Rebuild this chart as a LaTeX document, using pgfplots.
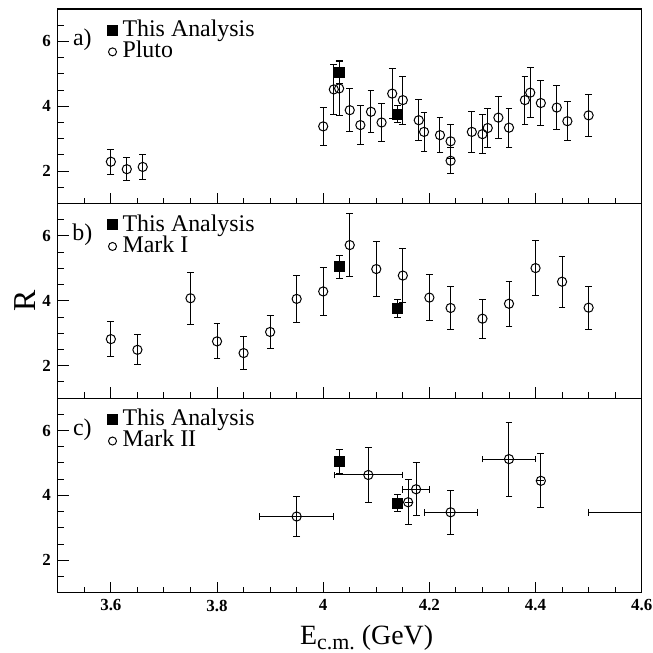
\documentclass[border=0pt]{standalone}
\usepackage{fontspec}
\setmainfont{Liberation Serif}
\usepackage{pgfplots}
\usepackage{pgfplotstable}
\pgfplotsset{compat=1.18}

\pgfplotstableread{
x y ey
4.03 5.05 0.36
4.14 3.76 0.27
}\thisan

\pgfplotstableread{
x y ey
3.60 2.29 0.38
3.63 2.06 0.36
3.66 2.13 0.38
4.00 3.38 0.58
4.02 4.52 0.76
4.03 4.55 0.82
4.05 3.88 0.67
4.07 3.42 0.60
4.09 3.83 0.65
4.11 3.50 0.60
4.13 4.39 0.77
4.15 4.19 0.74
4.18 3.57 0.63
4.19 3.21 0.60
4.22 3.11 0.55
4.24 2.92 0.52
4.24 2.32 0.40
4.28 3.21 0.62
4.30 3.14 0.60
4.31 3.33 0.60
4.33 3.65 0.64
4.35 3.34 0.60
4.38 4.19 0.74
4.39 4.42 0.77
4.41 4.10 0.69
4.44 3.96 0.69
4.46 3.54 0.61
4.50 3.72 0.65
}\pluto

\pgfplotstableread{
x y ey
3.60 2.82 0.55
3.65 2.49 0.46
3.75 4.08 0.80
3.80 2.75 0.54
3.85 2.39 0.51
3.90 3.04 0.52
3.95 4.06 0.72
4.00 4.29 0.74
4.05 5.72 0.98
4.10 4.98 0.85
4.15 4.78 0.82
4.20 4.10 0.71
4.24 3.78 0.66
4.30 3.45 0.60
4.35 3.91 0.69
4.40 5.01 0.85
4.45 4.59 0.78
4.50 3.79 0.66
}\markone

\pgfplotstableread{
x y ex ey
3.95 3.35 0.070 0.63
4.085 4.63 0.064 0.86
4.16 3.79 0.000 0.70
4.175 4.19 0.025 0.81
4.24 3.48 0.050 0.67
4.35 5.12 0.050 1.14
4.41 4.45 0.000 0.83
}\marktwo

\begin{document}
\begin{tikzpicture}
\pgfplotsset{
 panel/.style={
  scale only axis, width=292bp, height=97.3bp,
  xmin=3.5,xmax=4.6,ymin=1,ymax=7,
  xtick={3.6,3.8,4.0,4.2,4.4,4.6},
  minor xtick={3.5,3.55,3.65,3.7,3.75,3.85,3.9,3.95,4.05,4.1,4.15,4.25,4.3,4.35,4.45,4.5,4.55},
  ytick={2,4,6},
  minor ytick={1.5,2.5,3,3.5,4.5,5,5.5,6.5},
  tick pos=left, tick align=inside,
  major tick length=5.5bp, minor tick length=3bp,
  every tick/.style={black, line width=0.5pt},
  axis line style={line width=0.6pt},
  /pgf/number format/assume math mode=true,
  ticklabel style={font=\fontsize{8.5}{8.5}\selectfont\bfseries},
  legend style={draw=none, fill=none, at={(0.0845,0.955)}, anchor=north west,
    font=\fontsize{12}{12}\selectfont, inner sep=0pt, row sep=-1.3bp,
    nodes={inner sep=1pt}},
  legend cell align=left,
 },
 ebar/.style={error bars/.cd, y dir=both, y explicit,
   error bar style={line width=0.5pt, black},
   error mark options={rotate=90, mark size=1.7bp, line width=0.5pt, black}},
 sq/.style={only marks, mark=square*, mark size=2.5bp, black,
   legend image code/.code={\path[draw=none] (0bp,0bp) -- (6.5bp,0bp); \draw[only marks, mark=square*, mark size=2.5bp, black] plot coordinates {(2.5bp,0bp)};}},
 ci/.style={only marks, mark=o, mark size=2.3bp, black, mark options={line width=0.5pt},
   legend image code/.code={\path[draw=none] (0bp,0bp) -- (6.5bp,0bp); \draw[only marks, mark=o, mark size=2bp, black, line width=0.5pt] plot coordinates {(2.5bp,-0.5bp)};}},
}
% panel a
\begin{axis}[panel, at={(0,194.6bp)}, xticklabels={}]
\addplot[sq, ebar] table[x=x,y=y,y error=ey]{\thisan};
\addlegendentry{This Analysis}
\addplot[ci, ebar] table[x=x,y=y,y error=ey]{\pluto};
\addlegendentry{Pluto}
\node[font=\fontsize{12}{12}\selectfont] at (rel axis cs:0.042,0.84) {a)};
\end{axis}
% panel b
\begin{axis}[panel, at={(0,97.3bp)}, xticklabels={},
  ylabel={R}, ylabel style={font=\fontsize{16}{16}\selectfont, at={(axis description cs:-0.0377,0.5)}, anchor=base}]
\addplot[sq, ebar] table[x=x,y=y,y error=ey]{\thisan};
\addlegendentry{This Analysis}
\addplot[ci, ebar] table[x=x,y=y,y error=ey]{\markone};
\addlegendentry{Mark I}
\node[font=\fontsize{12}{12}\selectfont] at (rel axis cs:0.042,0.84) {b)};
\end{axis}
% panel c
\begin{axis}[panel, at={(0,0)},
  xlabel={E\raisebox{-0.2em}{\fontsize{11}{11}\selectfont c.m.} (GeV)},
  xlabel style={font=\fontsize{14}{14}\selectfont, inner sep=0pt, at={(axis description cs:0.529,0)}, anchor=base, yshift=-25.8bp}]
\addplot[sq, ebar] table[x=x,y=y,y error=ey]{\thisan};
\addlegendentry{This Analysis}
\addplot[ci, error bars/.cd, y dir=both, y explicit, x dir=both, x explicit,
   error bar style={line width=0.5pt, black},
   error mark options={rotate=90, mark size=1.7bp, line width=0.5pt, black}]
   table[x=x,y=y,x error=ex,y error=ey]{\marktwo};
\addlegendentry{Mark II}
\addplot[black, line width=0.5pt, forget plot] coordinates {(4.5,3.48) (4.6,3.48)};
\addplot[only marks, mark=|, mark size=1.7bp, black, mark options={line width=0.5pt}, forget plot] coordinates {(4.5,3.48)};
\node[font=\fontsize{12}{12}\selectfont] at (rel axis cs:0.042,0.84) {c)};
\end{axis}
\pgfresetboundingbox
\path[use as bounding box] (-28.9bp,-30.15bp) rectangle (297.5bp,296.4bp);
\end{tikzpicture}
\end{document}
